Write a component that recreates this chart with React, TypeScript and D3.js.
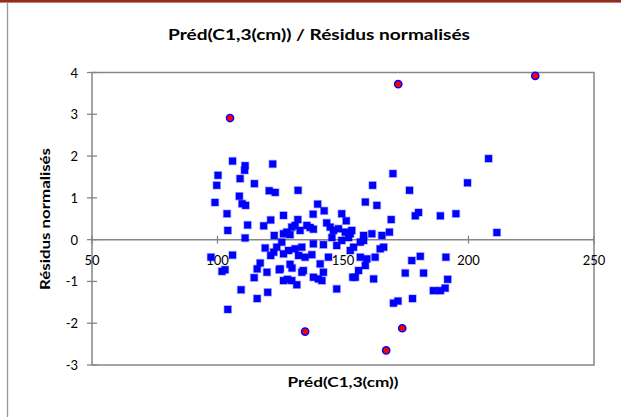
import React from "react";
import * as d3 from "d3";

// Predicted values (cm) and their standardized residuals
const predicted = [
  100.2, 99.7, 99.0, 97.4, 101.8, 103.0, 106.0, 111.0, 110.8, 122.0,
  109.0, 114.7, 120.6, 123.0, 132.1, 108.7, 109.8, 111.2, 139.9, 103.8,
  126.3, 138.1, 121.2, 118.4, 112.0, 132.0, 104.1, 122.6, 111.0, 119.0,
  106.0, 121.2, 122.4, 117.0, 115.8, 114.6, 119.7, 124.6, 109.4, 115.8,
  120.0, 104.1, 126.3, 127.9, 131.6, 129.6, 128.9, 129.7, 133.6, 138.2,
  140.2, 141.6, 142.2, 140.9, 125.0, 134.2, 147.5, 153.9, 134.9, 132.3,
  137.6, 144.2, 126.3, 128.3, 130.9, 133.6, 123.6, 125.6, 138.2, 142.2,
  145.6, 147.5, 149.5, 152.2, 129.6, 130.9, 135.6, 136.9, 138.2, 143.5,
  144.9, 146.2, 148.2, 150.9, 152.9, 127.6, 126.3, 128.9, 132.9, 142.5,
  149.5, 151.3, 169.9, 161.8, 176.5, 158.9, 163.5, 178.8, 180.1, 169.2,
  168.5, 153.5, 158.2, 161.5, 165.5, 166.2, 164.8, 158.2, 156.9, 154.2,
  152.9, 156.9, 159.5, 162.8, 158.9, 177.4, 180.8, 156.2, 154.9, 162.2,
  174.8, 182.1, 170.1, 171.9, 177.7, 186.0, 188.8, 195.0, 199.6, 208.0,
  211.3, 191.0, 191.7, 190.7, 188.8,
];
const residuals = [
  1.54, 1.30, 0.89, -0.42, -0.76, -0.72, 1.88, 1.77, 1.66, 1.81,
  1.46, 1.34, 1.17, 1.13, 1.18, 1.04, 0.86, 0.82, 0.85, 0.62,
  0.58, 0.61, 0.47, 0.33, 0.35, 0.48, 0.22, 0.10, 0.04, -0.20,
  -0.37, -0.38, -0.30, -0.56, -0.70, -0.91, -0.78, -0.72, -1.20, -1.41,
  -1.26, -1.67, -0.98, -0.95, -1.08, -0.98, -0.59, -0.68, -0.78, -0.90,
  -0.94, -0.98, -0.78, -0.58, -0.70, -0.74, -1.18, -0.90, -0.42, -0.38,
  -0.36, -0.42, -0.34, -0.26, -0.22, -0.18, -0.18, -0.06, -0.10, -0.12,
  0.05, -0.14, -0.02, 0.05, 0.30, 0.34, 0.34, 0.29, 0.25, 0.40,
  0.30, 0.22, 0.26, 0.18, 0.14, 0.18, 0.14, 0.12, 0.22, 0.69,
  0.62, 0.45, 1.58, 1.30, 1.18, 0.90, 0.82, 0.57, 0.65, 0.48,
  0.18, 0.22, 0.10, 0.14, 0.10, -0.18, -0.22, -0.02, -0.06, -0.18,
  -0.26, -0.42, -0.46, -0.42, -0.62, -0.50, -0.40, -0.74, -0.90, -0.94,
  -0.80, -0.80, -1.52, -1.47, -1.41, -1.22, 0.57, 0.62, 1.36, 1.94,
  0.17, -0.42, -0.95, -1.16, -1.22,
];

// Observations flagged as outliers (|residual| > 2)
const outlierPredicted = [105.0, 172.0, 226.6, 134.9, 173.6, 167.2];
const outlierResiduals = [2.91, 3.72, 3.92, -2.2, -2.12, -2.65];

const xTicks = [50, 100, 150, 200, 250];
const yTicks = [-3, -2, -1, 0, 1, 2, 3, 4];

const title = "Préd(C1,3(cm)) / Résidus normalisés";
const xTitle = "Préd(C1,3(cm))";
const yTitle = "Résidus normalisés";

export default function App() {
  const W = 621;
  const H = 417;
  const x = d3.scaleLinear().domain([50, 250]).range([92, 594]);
  const y = d3.scaleLinear().domain([-3, 4]).range([365, 72.5]);
  const axisColor = "#868686";
  const font = "Lato, 'Open Sans', 'Liberation Sans', sans-serif";
  const [x0, x1] = x.range();
  const [yb, yt] = y.range();
  const y0 = y(0);
  const axisX = x(50);

  return (
    <svg
      width={W}
      height={H}
      style={{ position: "absolute", left: 0, top: 0, background: "#fff" }}
      fontFamily={font}
    >
      <rect x={0} y={0} width={W} height={H} fill="#fff" />
      {/* frame: top band and left edge */}
      <rect x={0} y={0} width={W} height={2.6} fill="#962a1c" />
      <line x1={7.5} x2={7.5} y1={3} y2={H} stroke="#9a9a9a" strokeWidth={1.4} />

      <text
        x={319}
        y={33}
        textAnchor="middle"
        dominantBaseline="central"
        fontSize={16}
        fontWeight="bold"
        textLength={302}
        lengthAdjust="spacingAndGlyphs"
        fill="#000"
      >
        {title}
      </text>

      {/* plot border */}
      <polyline
        points={`${x0},${yt} ${x1},${yt} ${x1},${yb} ${x0},${yb}`}
        fill="none"
        stroke={axisColor}
        strokeWidth={1.5}
      />
      {/* y axis */}
      <line x1={axisX} x2={axisX} y1={yt} y2={yb} stroke={axisColor} strokeWidth={1.5} />
      {yTicks.map((t) => (
        <g key={`y${t}`}>
          <line
            x1={axisX - 5}
            x2={axisX + 5}
            y1={y(t)}
            y2={y(t)}
            stroke={axisColor}
            strokeWidth={1.3}
          />
          <text
            x={78}
            y={y(t)}
            textAnchor="end"
            dominantBaseline="central"
            fontSize={13}
            fill="#000"
          >
            {t}
          </text>
        </g>
      ))}
      {/* x axis crossing at zero */}
      <line x1={x0} x2={x1} y1={y0} y2={y0} stroke={axisColor} strokeWidth={1.5} />
      {xTicks.map((t) => (
        <g key={`x${t}`}>
          <line
            x1={x(t)}
            x2={x(t)}
            y1={y0 - 4}
            y2={y0 + 4}
            stroke={axisColor}
            strokeWidth={1.3}
          />
          <text
            x={x(t)}
            y={y0 + 20}
            textAnchor="middle"
            dominantBaseline="central"
            fontSize={13}
            fill="#000"
          >
            {t}
          </text>
        </g>
      ))}

      {/* axis titles */}
      <text
        x={343}
        y={382}
        textAnchor="middle"
        dominantBaseline="central"
        fontSize={13.5}
        fontWeight="bold"
        textLength={111}
        lengthAdjust="spacingAndGlyphs"
        fill="#000"
      >
        {xTitle}
      </text>
      <text
        transform="translate(45,219) rotate(-90)"
        textAnchor="middle"
        dominantBaseline="central"
        fontSize={13.5}
        fontWeight="bold"
        textLength={142}
        lengthAdjust="spacingAndGlyphs"
        fill="#000"
      >
        {yTitle}
      </text>

      {/* observations */}
      <g>
        {predicted.map((p, i) => (
          <rect
            key={`p${i}`}
            x={x(p) - 3.5}
            y={y(residuals[i]) - 3.5}
            width={7}
            height={7}
            fill="#0000ff"
            stroke="rgba(0,0,255,0.3)"
            strokeWidth={1.5}
          />
        ))}
      </g>
      <g>
        {outlierPredicted.map((p, i) => (
          <circle
            key={`o${i}`}
            cx={x(p)}
            cy={y(outlierResiduals[i])}
            r={3.6}
            fill="#ff0000"
            stroke="#0000ff"
            strokeWidth={1.5}
          />
        ))}
      </g>
    </svg>
  );
}
